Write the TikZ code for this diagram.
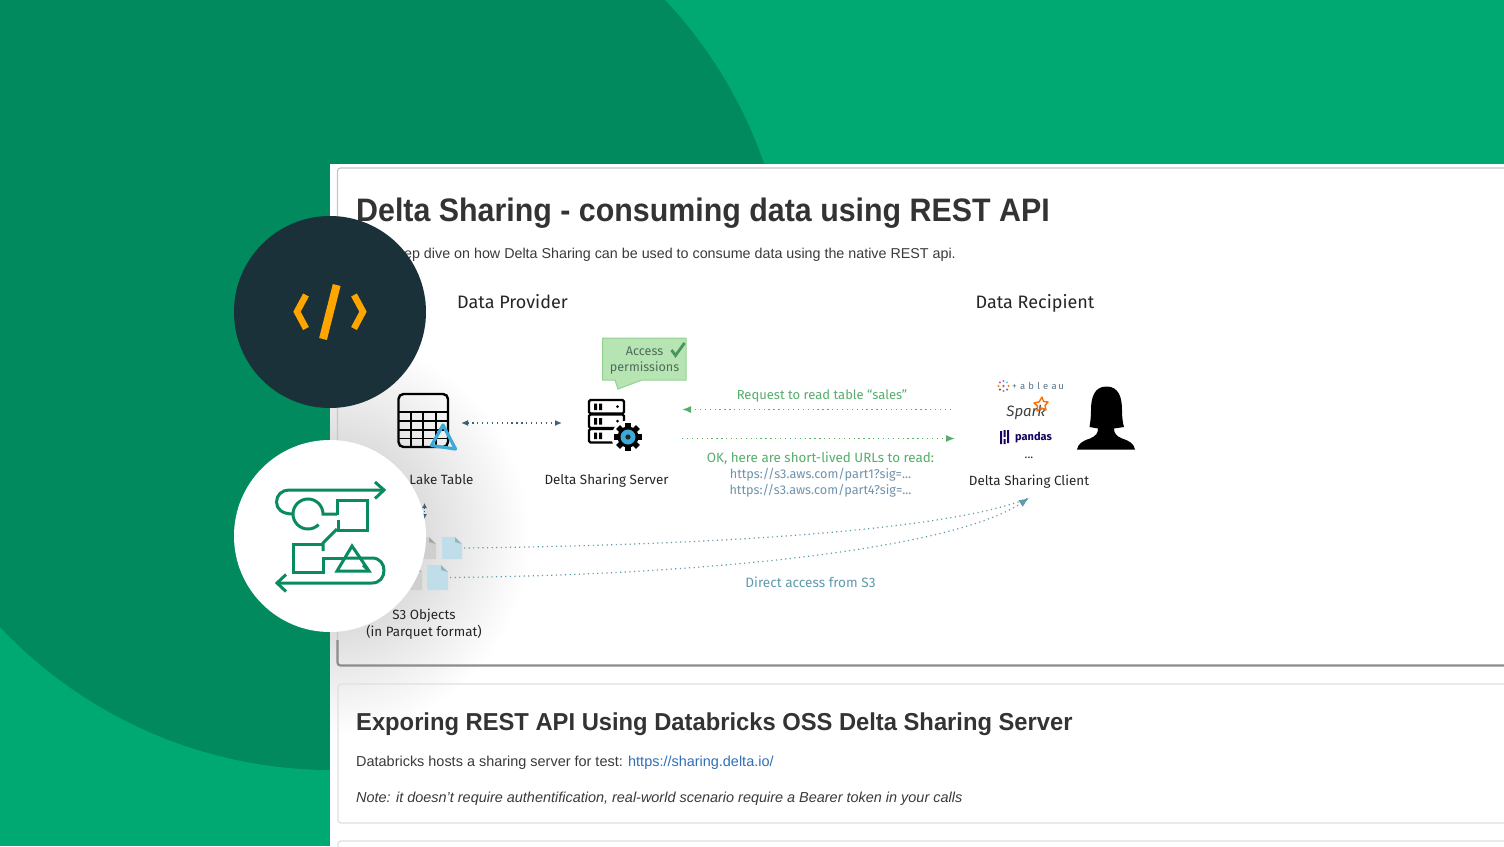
\documentclass[tikz,border=0pt]{standalone}
\usepackage{fontspec}
\setmainfont{Liberation Sans}
\newfontfamily\dgm{Fira Sans}
\usetikzlibrary{arrows.meta}
\definecolor{bgbright}{HTML}{00A972}
\definecolor{bgdark}{HTML}{008A5E}
\definecolor{navy}{HTML}{1B3139}
\definecolor{amber}{HTML}{FFA500}
\definecolor{flow}{HTML}{0A8A5F}
\definecolor{titlec}{HTML}{333333}
\definecolor{bodyc}{HTML}{3A3A3A}
\definecolor{dgreen}{HTML}{55AE6C}
\definecolor{durl}{HTML}{6F93AB}
\definecolor{dteal}{HTML}{5F9BAC}
\definecolor{dslate}{HTML}{3D6075}
\definecolor{deltab}{HTML}{3CA9D8}
\definecolor{filebl}{HTML}{C0DDEA}
\definecolor{filegr}{HTML}{CFCFCF}
\definecolor{bubf}{HTML}{B7E4B3}
\definecolor{bubd}{HTML}{93D193}
\definecolor{bubt}{HTML}{4D6B58}
\definecolor{linkc}{HTML}{2F6FB5}
\pgfdeclareradialshading{glow}{\pgfpoint{0bp}{0bp}}{color(0bp)=(black!13); color(12bp)=(black!13); color(25bp)=(white); color(50bp)=(white)}
\tikzset{
  dt/.style={font=\dgm\fontsize{13.4}{16}\selectfont,text=black!85,inner sep=0pt,anchor=base},
  dg/.style={dt,text=dgreen},
  du/.style={dt,font=\dgm\fontsize{12.7}{15}\selectfont,text=durl},
  head/.style={dt,font=\dgm\fontsize{18}{20}\selectfont},
  hone/.style={font=\bfseries\fontsize{32.5}{36}\selectfont,text=titlec,inner sep=0pt,anchor=base west},
  htwo/.style={font=\bfseries\fontsize{24.5}{28}\selectfont,text=titlec,inner sep=0pt,anchor=base west},
  body/.style={font=\fontsize{14.45}{17}\selectfont,text=bodyc,inner sep=0pt,anchor=base west},
  dotg/.style={dgreen,line width=1.4pt,dash pattern=on 1.3pt off 3.6pt},
  dots/.style={dslate,line width=1.4pt,dash pattern=on 1.3pt off 3.6pt},
  dotb/.style={dteal,line width=1.2pt,dash pattern=on 1.2pt off 3.4pt},
  tip/.style={-{Latex[length=9pt,width=7pt]}},
  flowl/.style={flow,line width=3pt},
  ico/.style={black,line width=2.4pt},
}
\begin{document}
\begin{tikzpicture}[x=1pt,y=-1pt]
\useasboundingbox (0,0) rectangle (1504,846);
\clip (0,0) rectangle (1504,846);
% background
\fill[bgbright] (0,0) rectangle (1504,846);
\fill[bgdark] (332,313) circle (457);
% page
\fill[white] (330,164) rectangle (1504,846);
\begin{scope}
\clip (330,164) rectangle (1504,846);
\shade[shading=glow] (130,336) rectangle (530,736);
\end{scope}
% cards
\draw[black!22,line width=1.2pt,rounded corners=3pt] (1510,168) -- (337.5,168) -- (337.5,640);
\draw[black!45,line width=2.2pt,rounded corners=3pt] (337.5,640) -- (337.5,665.5) -- (1510,665.5);
\draw[black!12,line width=1.2pt,rounded corners=3pt] (1510,684) -- (338,684) -- (338,823) -- (1510,823);
\draw[black!12,line width=1.2pt,rounded corners=3pt] (1510,841) -- (338,841) -- (338,860);
% card text
\node[hone] (title) at (356,221) {\scalebox{0.9345}[1]{Delta Sharing - consuming data using REST API}};
\node[body,font=\fontsize{14.3}{17}\selectfont,anchor=base east] (intro) at (956,258) {A deep dive on how Delta Sharing can be used to consume data using the native REST api.};
\node[htwo] (title2) at (356,730) {\scalebox{0.969}[1]{Exporing REST API Using Databricks OSS Delta Sharing Server}};
\node[body] (host) at (356,766) {Databricks hosts a sharing server for test: \textcolor{linkc}{https://sharing.delta.io/}};
\node[body,font=\itshape\fontsize{14.45}{17}\selectfont] (note) at (356,802.5) {Note: it doesn't require authentification, real-world scenario require a Bearer token in your calls};
% diagram headings
\node[head] (prov) at (512.5,308) {Data Provider};
\node[head] (recip) at (1035,308) {Data Recipient};
% lake table icon
\draw[ico,rounded corners=5pt] (398.5,394) rectangle (448,447);
\draw[ico,line width=1.8pt] (398.5,412) -- (448,412) (398.5,421) -- (448,421) (398.5,430) -- (448,430) (398.5,438.5) -- (448,438.5)
  (411,412) -- (411,447) (423,412) -- (423,447) (436,412) -- (436,447);
\draw[deltab,line width=3.2pt,line join=round] (443,425) -- (455.5,449) -- (431.5,445.5) -- cycle;
% server icon
\coordinate (gearc) at (628,437);
\foreach \yy in {400,414.5,429}{
  \draw[ico,rounded corners=1.5pt] (589,\yy) rectangle (624,\yy+13.5);
  \fill[black] (594,\yy+3.5) rectangle (597,\yy+10) (599,\yy+3.5) rectangle (602,\yy+10);
  \fill[black] (617.5,\yy+6.7) circle (1.5);
}
\fill[white] (gearc) circle (16.5);
\begin{scope}[shift={(628,437)}]
\fill[black] (0,0) circle (10.5);
\foreach \a in {0,45,...,135}{\fill[black,rotate=\a] (-2.8,-14) rectangle (2.8,14);}
\fill[deltab] (0,0) circle (7.5);
\fill[black!85] (0,0) circle (2.6);
\end{scope}
% bubble
\draw[fill=bubf,draw=bubd,line width=1pt] (602.5,338) -- (686,338) -- (686,380) -- (642,380) -- (618,389) -- (615,380) -- (602.5,380) -- cycle;
\node[dt,text=bubt,font=\dgm\fontsize{12.6}{15}\selectfont] (acc) at (644.5,355.5) {Access};
\node[dt,text=bubt,font=\dgm\fontsize{12.6}{15}\selectfont] (perm) at (644.5,371.5) {permissions};
\draw[draw=dgreen!85!black,line width=2.8pt] (671.5,350) -- (675.5,355.5) -- (684.5,343);
% labels
\node[dt] (lake) at (441.5,484.5) {Lake Table};
\node[dt] (server) at (606.5,484.5) {Delta Sharing Server};
\node[dt] (client) at (1029,485) {Delta Sharing Client};
\node[dg,font=\dgm\fontsize{13}{16}\selectfont] (req) at (822,399) {Request to read table “sales”};
\node[dg] (ok) at (820.5,462) {OK, here are short-lived URLs to read:};
\node[du] (u1) at (820.5,478) {https://s3.aws.com/part1?sig=...};
\node[du] (u2) at (820.5,494) {https://s3.aws.com/part4?sig=...};
\node[dt,text=dteal,font=\dgm\fontsize{13.6}{16}\selectfont] (direct) at (810.5,587) {Direct access from S3};
\node[dt] (s3a) at (424,619.5) {S3 Objects};
\node[dt] (s3b) at (424,636) {(in Parquet format)};
% files
\foreach \xa/\xb/\ya/\yb/\cc in {410/436/537/559/filegr,442/462/537/559/filebl,395/422/565/590/filegr,427/448/565/590/filebl}{
  \fill[\cc] (\xa,\ya) -- (\xb-7,\ya) -- (\xb,\ya+7) -- (\xb,\yb) -- (\xa,\yb) -- cycle;
  \fill[\cc!80!black] (\xb-7,\ya) -- (\xb,\ya+7) -- (\xb-7,\ya+5) -- cycle;
}
% connector anchors
\coordinate (lt) at (461,423);
\coordinate (sv) at (562,423);
\coordinate (gl) at (682,409.5);
\coordinate (cr) at (951,409.5);
\coordinate (gs) at (682,438.5);
\coordinate (cs) at (955,438.5);
\coordinate (fa) at (464,548);
\coordinate (fb) at (450,577.5);
\coordinate (ca) at (1029,498);
\coordinate (va) at (424.5,503);
\coordinate (vb) at (424.5,519);
% connectors
\draw[dots,{Latex[length=7pt,width=6pt]}-{Latex[length=7pt,width=6pt]}] (lt) -- (sv);
\draw[dotg,tip] (cr) -- (gl);
\draw[dotg,tip] (gs) -- (cs);
\draw[dslate,line width=1.2pt,dash pattern=on 1.5pt off 1.5pt,{Latex[length=5pt,width=5pt]}-{Latex[length=5pt,width=5pt]}] (va) -- (vb);
\draw[dotb] (fa) .. controls (720,545) and (950,530) .. (ca);
\draw[dotb,-{Latex[length=10pt,width=8pt]}] (fb) .. controls (700,575) and (950,550) .. (ca);
% client logos
\foreach \a/\cc in {0/orange,45/blue!60,90/red!65,135/teal,180/orange,225/violet!60,270/red!65,315/cyan!60}{
  \fill[\cc] (1003.5,386)+(\a:5) circle (1.2);
}
\fill[violet!60] (1003.5,386) circle (1.3);
\node[font=\dgm\fontsize{9.5}{10}\selectfont,text=durl!80!black,inner sep=0pt,anchor=base] (tab) at (1038,389) {+\,\,a\,\,b\,\,l\,\,e\,\,a\,u};
\node[font=\dgm\itshape\fontsize{15}{15}\selectfont,text=black!75,inner sep=0pt,anchor=base] (spark) at (1026,416) {Spark};
\draw[orange!85!red,line width=1.4pt,line join=round] (1042,397) -- (1043.5,401.5) -- (1048,402) -- (1045,405.5) -- (1046,410) -- (1041.5,408) -- (1037,411) -- (1037.5,406) -- (1034,403) -- (1039,402) -- cycle;
\fill[blue!35!black!80!violet] (1000,431) rectangle (1002,444) (1003.5,430) rectangle (1005.5,437) (1003.5,439) rectangle (1005.5,444) (1007,430) rectangle (1009,443);
\node[font=\dgm\bfseries\fontsize{11}{12}\selectfont,text=blue!35!black!85!violet,inner sep=0pt,anchor=base] (pandas) at (1033.5,440) {pandas};
\node[dt,font=\dgm\fontsize{12}{12}\selectfont] (more) at (1029,458) {...};
% person
\fill[black] (1106.5,386.5) .. controls (1094,386.5) and (1091,398) .. (1091,410)
  .. controls (1091,418) and (1090,424) .. (1089.5,427) -- (1098,428.5)
  .. controls (1098,433) and (1096,436) .. (1090,438.5)
  .. controls (1082,441) and (1078,444) .. (1077,449.5) -- (1135,449.5)
  .. controls (1134,444) and (1130,441) .. (1122,438.5)
  .. controls (1116,436) and (1114,433) .. (1114,428.5) -- (1124,427)
  .. controls (1123,424) and (1122,418) .. (1122,410)
  .. controls (1122,398) and (1119,386.5) .. (1106.5,386.5) -- cycle;
% dark circle
\fill[navy] (330,312) circle (96);
\draw[amber,line width=6.5pt] (306,295) -- (297,311.7) -- (306,328.5);
\draw[amber,line width=6.5pt] (354,295) -- (363,311.7) -- (354,328.5);
\draw[amber,line width=8pt] (336.7,285) -- (323,339);
% white circle
\fill[white] (330,536) circle (96);
\draw[flowl] (293,514) .. controls (282,514) and (276.5,509) .. (276.5,502) .. controls (276.5,495) and (282,490) .. (289,490) -- (383,490);
\draw[flowl] (375,482) -- (384,490) -- (375,498.5);
\draw[flowl] (318.6,524.6) arc (45:360:15) -- (337,514);
\draw[flowl] (337,515) -- (337,500) -- (367,500) -- (367,530) -- (338,530) -- (338,520);
\draw[flowl] (337,529) -- (323,543) -- (323,551);
\draw[flowl] (323,557) -- (323,572.5) -- (293,572.5) -- (293,544.5) -- (323,544.5);
\draw[flowl] (323,558) -- (345,558);
\draw[flowl,line join=miter] (352,546) -- (369,571) -- (337,571) -- cycle;
\draw[flowl] (345,558) -- (372,558) .. controls (380,558) and (384,564) .. (384,570.5) .. controls (384,577) and (380,583) .. (372,583) -- (277,583);
\draw[flowl] (286,574.5) -- (277,583) -- (286,591.5);
\draw[flowl] (363,565) -- (368,570);
\end{tikzpicture}
\end{document}
